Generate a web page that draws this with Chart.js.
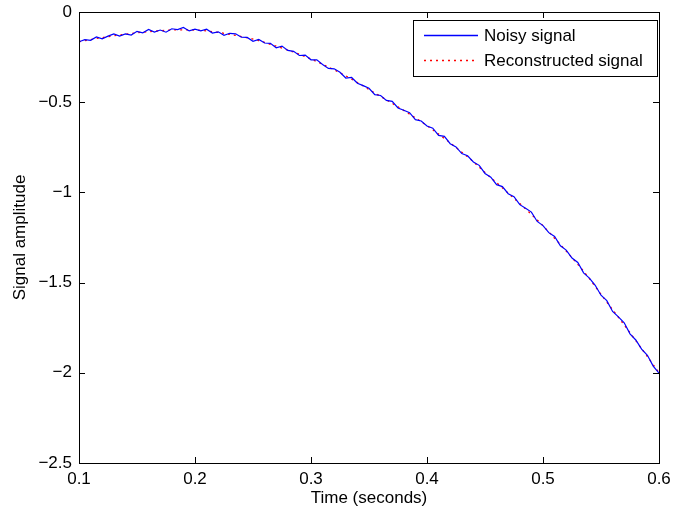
<!DOCTYPE html>
<html>
<head>
<meta charset="utf-8">
<style>
  html, body { margin: 0; padding: 0; background: #fff; }
  #wrap { width: 673px; height: 514px; }
</style>
</head>
<body>
<div id="wrap"><canvas id="myChart" width="673" height="514"></canvas></div>

<script src="https://cdn.jsdelivr.net/npm/chart.js"></script>
<script>
  // sample times (s)
  const times = [
    0.100, 0.105, 0.110, 0.115, 0.120, 0.125, 0.130, 0.135, 0.140, 0.145,
    0.150, 0.155, 0.160, 0.165, 0.170, 0.175, 0.180, 0.185, 0.190, 0.195,
    0.200, 0.205, 0.210, 0.215, 0.220, 0.225, 0.230, 0.235, 0.240, 0.245,
    0.250, 0.255, 0.260, 0.265, 0.270, 0.275, 0.280, 0.285, 0.290, 0.295,
    0.300, 0.305, 0.310, 0.315, 0.320, 0.325, 0.330, 0.335, 0.340, 0.345,
    0.350, 0.355, 0.360, 0.365, 0.370, 0.375, 0.380, 0.385, 0.390, 0.395,
    0.400, 0.405, 0.410, 0.415, 0.420, 0.425, 0.430, 0.435, 0.440, 0.445,
    0.450, 0.455, 0.460, 0.465, 0.470, 0.475, 0.480, 0.485, 0.490, 0.495,
    0.500, 0.505, 0.510, 0.515, 0.520, 0.525, 0.530, 0.535, 0.540, 0.545,
    0.550, 0.555, 0.560, 0.565, 0.570, 0.575, 0.580, 0.585, 0.590, 0.595,
    0.600
  ];

  const noisySignal = [
    -0.165, -0.153, -0.157, -0.138, -0.149, -0.134, -0.121, -0.133, -0.121, -0.128,
    -0.107, -0.115, -0.097, -0.111, -0.100, -0.112, -0.093, -0.098, -0.086, -0.105,
    -0.095, -0.104, -0.095, -0.117, -0.110, -0.129, -0.118, -0.121, -0.140, -0.141,
    -0.162, -0.152, -0.172, -0.174, -0.198, -0.189, -0.213, -0.218, -0.241, -0.239,
    -0.265, -0.265, -0.291, -0.313, -0.315, -0.334, -0.366, -0.363, -0.395, -0.408,
    -0.423, -0.458, -0.463, -0.490, -0.495, -0.532, -0.545, -0.558, -0.597, -0.604,
    -0.632, -0.644, -0.684, -0.689, -0.730, -0.748, -0.785, -0.797, -0.831, -0.850,
    -0.895, -0.916, -0.957, -0.968, -1.007, -1.024, -1.068, -1.088, -1.109, -1.161,
    -1.184, -1.223, -1.244, -1.296, -1.320, -1.364, -1.388, -1.446, -1.475, -1.515,
    -1.570, -1.600, -1.660, -1.690, -1.723, -1.784, -1.818, -1.869, -1.903, -1.963,
    -2.002
  ];

  const reconstructedSignal = [
    -0.165, -0.159, -0.153, -0.147, -0.142, -0.137, -0.132, -0.127, -0.123, -0.119,
    -0.115, -0.112, -0.109, -0.106, -0.104, -0.102, -0.100, -0.099, -0.099, -0.099,
    -0.100, -0.102, -0.105, -0.109, -0.113, -0.118, -0.124, -0.130, -0.136, -0.143,
    -0.150, -0.159, -0.169, -0.179, -0.189, -0.200, -0.211, -0.222, -0.234, -0.247,
    -0.260, -0.275, -0.290, -0.305, -0.321, -0.337, -0.354, -0.372, -0.391, -0.410,
    -0.430, -0.449, -0.468, -0.487, -0.506, -0.526, -0.546, -0.566, -0.587, -0.608,
    -0.630, -0.653, -0.677, -0.701, -0.726, -0.751, -0.777, -0.803, -0.830, -0.860,
    -0.890, -0.918, -0.946, -0.975, -1.004, -1.033, -1.062, -1.092, -1.122, -1.153,
    -1.185, -1.219, -1.254, -1.289, -1.325, -1.362, -1.399, -1.437, -1.478, -1.521,
    -1.565, -1.608, -1.650, -1.692, -1.735, -1.778, -1.822, -1.866, -1.910, -1.955,
    -2.000
  ];

  const xTicks = [0.1, 0.2, 0.3, 0.4, 0.5, 0.6];
  const yTicks = [-2.5, -2, -1.5, -1, -0.5, 0];

  const FONT = { family: '"Liberation Sans", Arial, Helvetica, sans-serif', size: 17 };
  const BLUE = '#0000ff';
  const RED = '#ff0000';

  function fmt(v) {
    const s = String(+Math.abs(v).toFixed(1));
    return v < 0 ? '\u2212' + s : s;
  }

  // MATLAB-like box, inward ticks and legend
  const matlabAxes = {
    id: 'matlabAxes',
    afterDatasetsDraw(chart) {
      const ctx = chart.ctx;
      const a = chart.chartArea;
      const xs = chart.scales.x, ys = chart.scales.y;
      const tl = 6;
      ctx.save();
      ctx.setLineDash([]);
      ctx.strokeStyle = '#000';
      ctx.lineWidth = 1;
      ctx.beginPath();
      xTicks.forEach(v => {
        const px = Math.round(xs.getPixelForValue(v)) + 0.5;
        ctx.moveTo(px, a.bottom); ctx.lineTo(px, a.bottom - tl);
        ctx.moveTo(px, a.top); ctx.lineTo(px, a.top + tl);
      });
      yTicks.forEach(v => {
        const py = Math.round(ys.getPixelForValue(v)) + 0.5;
        ctx.moveTo(a.left, py); ctx.lineTo(a.left + tl, py);
        ctx.moveTo(a.right, py); ctx.lineTo(a.right - tl, py);
      });
      ctx.stroke();
      ctx.strokeRect(Math.round(a.left) + 0.5, Math.round(a.top) + 0.5,
                     Math.round(a.right - a.left), Math.round(a.bottom - a.top));

      // legend
      const bw = 244, bh = 56;
      const bx = Math.round(a.right) - 2 - bw, by = Math.round(a.top) + 8;
      ctx.fillStyle = '#fff';
      ctx.fillRect(bx, by, bw, bh);
      ctx.strokeRect(bx + 0.5, by + 0.5, bw, bh);
      ctx.font = FONT.size + 'px ' + FONT.family;
      ctx.textBaseline = 'middle';
      const entries = [
        { label: chart.data.datasets[0].label, color: BLUE, dash: [] },
        { label: chart.data.datasets[1].label, color: RED, dash: [2, 4] }
      ];
      entries.forEach((e, i) => {
        const ry = by + 15 + i * 25;
        ctx.save();
        ctx.strokeStyle = e.color;
        ctx.lineWidth = 1.3;
        ctx.setLineDash(e.dash);
        ctx.beginPath();
        ctx.moveTo(bx + 11, ry + 0.5);
        ctx.lineTo(bx + 65, ry + 0.5);
        ctx.stroke();
        ctx.restore();
        ctx.fillStyle = '#000';
        ctx.fillText(e.label, bx + 71, ry + 1);
      });
      ctx.restore();
    }
  };

  const ctx = document.getElementById('myChart').getContext('2d');

  new Chart(ctx, {
    type: 'line',
    data: {
      datasets: [
        {
          label: 'Noisy signal',
          data: times.map((t, i) => ({ x: t, y: noisySignal[i] })),
          borderColor: BLUE,
          borderWidth: 1.2,
          pointRadius: 0,
          tension: 0,
          order: 1
        },
        {
          label: 'Reconstructed signal',
          data: times.map((t, i) => ({ x: t, y: reconstructedSignal[i] })),
          borderColor: RED,
          borderWidth: 1.3,
          borderDash: [2, 4],
          pointRadius: 0,
          tension: 0,
          order: 2
        }
      ]
    },
    options: {
      responsive: false,
      animation: false,
      devicePixelRatio: 1,
      layout: { padding: { top: 12, right: 14, bottom: 0, left: 0 } },
      plugins: {
        legend: { display: false },
        tooltip: { enabled: false }
      },
      scales: {
        x: {
          type: 'linear',
          min: 0.1,
          max: 0.6,
          afterBuildTicks: s => { s.ticks = xTicks.map(v => ({ value: v })); },
          afterFit: s => { s.height = 51; s.paddingLeft = 0; s.paddingRight = 0; },
          grid: { display: false, drawTicks: false },
          border: { display: false },
          ticks: { color: '#000', font: FONT, padding: 6, maxRotation: 0, callback: v => fmt(v) },
          title: { display: true, text: 'Time (seconds)', color: '#000', font: FONT, padding: { top: 0, bottom: 5 } }
        },
        y: {
          type: 'linear',
          min: -2.5,
          max: 0,
          afterBuildTicks: s => { s.ticks = yTicks.map(v => ({ value: v })); },
          afterFit: s => { s.width = 79; s.paddingTop = 0; s.paddingBottom = 0; },
          grid: { display: false, drawTicks: false },
          border: { display: false },
          ticks: { color: '#000', font: FONT, padding: 7, callback: v => fmt(v) },
          title: { display: true, text: 'Signal amplitude', color: '#000', font: FONT, padding: { top: 10, bottom: 0 } }
        }
      }
    },
    plugins: [matlabAxes]
  });
</script>
</body>
</html>
